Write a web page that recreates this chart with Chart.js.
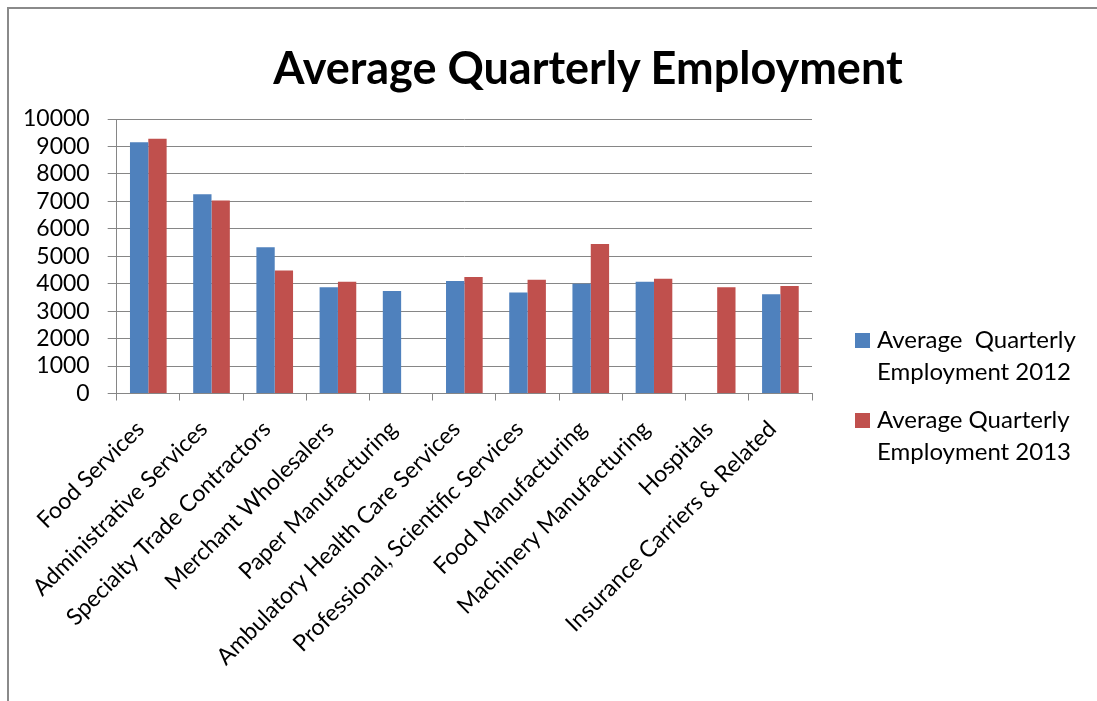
<!DOCTYPE html>
<html>
<head>
<meta charset="utf-8">
<script src="https://cdn.jsdelivr.net/npm/chart.js@4/dist/chart.umd.min.js"></script>
<style>
  html, body { margin: 0; padding: 0; background: #fff; overflow: hidden; }
  body { width: 1097px; height: 701px; position: relative; font-family: Lato, "Open Sans", sans-serif; }
  #marco { position: absolute; left: 7px; top: 7px; width: 1200px; height: 800px;
           border-left: 2px solid #8a8a8a; border-top: 2px solid #8a8a8a; }
  #grafico { position: absolute; left: 0; top: 0; }
  #titulo { position: absolute; left: 588px; top: 45px; transform: translateX(-50%);
            font: bold 45px/45px Lato, sans-serif; color: #000; white-space: nowrap; }
  .leyenda { position: absolute; left: 855px; font: 24px/32px Lato, sans-serif; color: #000; }
  .leyenda .caja { position: absolute; left: 0; top: 10px; width: 15px; height: 15px; }
  .leyenda .texto { position: absolute; left: 22px; top: 0; white-space: pre; }
</style>
</head>
<body>
<div id="marco"></div>
<canvas id="grafico" width="1097" height="701"></canvas>
<div id="titulo">Average Quarterly Employment</div>
<div id="leyenda"></div>

<script>
// Categorías del eje X
const categorias = [
  "Food Services",
  "Administrative Services",
  "Specialty Trade Contractors",
  "Merchant Wholesalers",
  "Paper Manufacturing",
  "Ambulatory Health Care Services",
  "Professional, Scientific Services",
  "Food Manufacturing",
  "Machinery Manufacturing",
  "Hospitals",
  "Insurance Carriers & Related"
];

// Empleo promedio trimestral (null = sin dato)
const empleo2012 = [9150, 7260, 5330, 3870, 3730, 4100, 3680, 4000, 4070, null, 3620];
const empleo2013 = [9280, 7030, 4480, 4070, null, 4240, 4140, 5450, 4180, 3870, 3920];

const nombres = ["Average  Quarterly\nEmployment 2012", "Average Quarterly\nEmployment 2013"];
const colores = ["#4F81BD", "#C0504D"];

// Ticks del eje Y
const ejeMin = 0;
const ejeMax = 10000;
const ejePaso = 1000;

const gris = "#868686";

function main() {
  const ctx = document.getElementById("grafico").getContext("2d");
  const chart = new Chart(ctx, {
    type: "bar",
    data: {
      labels: categorias,
      datasets: [
        { label: nombres[0], data: empleo2012, backgroundColor: colores[0] },
        { label: nombres[1], data: empleo2013, backgroundColor: colores[1] }
      ]
    },
    options: {
      responsive: false,
      animation: false,
      devicePixelRatio: 1,
      layout: { padding: { left: 5, top: 119, right: 285, bottom: 33 } },
      datasets: { bar: { categoryPercentage: 0.58, barPercentage: 1.0 } },
      plugins: {
        legend: { display: false },
        title: { display: false },
        tooltip: { enabled: false }
      },
      scales: {
        x: {
          grid: { display: true, drawOnChartArea: false, drawTicks: true, tickLength: 7, color: gris, offset: true },
          border: { display: true, color: gris, width: 1 },
          ticks: {
            minRotation: 45, maxRotation: 45, autoSkip: false, padding: 15, labelOffset: -8, color: "#000",
            font: { family: "Lato", size: 23 }
          }
        },
        y: {
          min: ejeMin, max: ejeMax,
          grid: { color: gris, lineWidth: 1, tickLength: 9 },
          border: { display: true, color: gris, width: 1 },
          ticks: {
            stepSize: ejePaso, autoSkip: false, padding: 18, color: "#000",
            font: { family: "Lato", size: 23 },
            callback: v => String(v)
          }
        }
      }
    }
  });

  // Leyenda a la derecha del gráfico
  const cont = document.getElementById("leyenda");
  chart.data.datasets.forEach((ds, i) => {
    const item = document.createElement("div");
    item.className = "leyenda";
    item.style.top = (323 + i * 80) + "px";
    const caja = document.createElement("div");
    caja.className = "caja";
    caja.style.background = ds.backgroundColor;
    const texto = document.createElement("div");
    texto.className = "texto";
    texto.textContent = ds.label;
    item.appendChild(caja);
    item.appendChild(texto);
    cont.appendChild(item);
  });
}

main();
</script>
</body>
</html>
